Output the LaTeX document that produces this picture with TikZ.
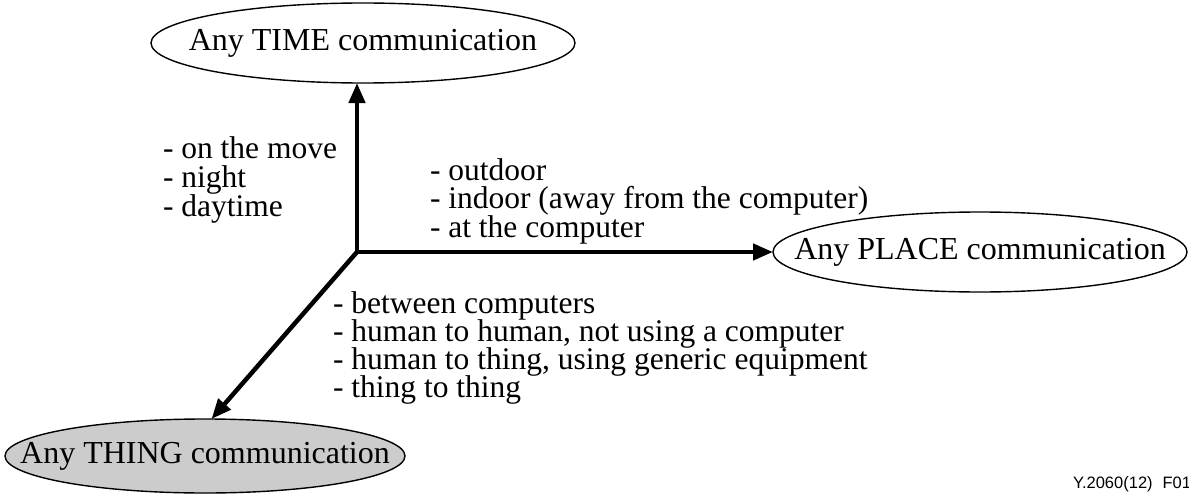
\documentclass[tikz,border=0pt]{standalone}
\usepackage{fontspec}
\setmainfont{Liberation Serif}
\newfontfamily\labsans{Liberation Sans}
\usetikzlibrary{arrows.meta,shapes.geometric}
\begin{document}
\begin{tikzpicture}[x=1pt,y=-1pt,
  every node/.style={inner sep=0pt, outer sep=0pt},
  txt/.style={anchor=base west, font=\fontsize{31.5}{29}\selectfont},
  oval/.style={draw, ellipse, line width=1.4pt, label={[font=\fontsize{32}{29}\selectfont]center:#1}},
  axis/.style={line width=4.5pt, -{Triangle[length=20pt,width=16pt]}}]
\useasboundingbox (0,0) rectangle (1189,495);
\coordinate (o) at (357,252);
\node[oval={Any TIME communication}, minimum width=424pt, minimum height=80pt] (time) at (363,43) {};
\node[oval={Any PLACE communication}, minimum width=414pt, minimum height=80pt] (place) at (980,252) {};
\node[oval={Any THING communication}, fill=black!20, minimum width=400pt, minimum height=74pt] (thing) at (205,456) {};
\draw[axis] (o) -- (o |- time.south);
\draw[axis] (o) -- (place.west);
\draw[axis] (o) -- (thing.80);
\node[txt] (t1) at (163,158) {- on the move};
\node[txt] (t2) at (163,187) {- night};
\node[txt] (t3) at (163,216) {- daytime};
\node[txt] (p1) at (430,180) {- outdoor};
\node[txt] (p2) at (430,208.5) {- indoor (away from the computer)};
\node[txt] (p3) at (430,237) {- at the computer};
\node[txt] (h1) at (333,313) {- between computers};
\node[txt] (h2) at (333,341) {- human to human, not using a computer};
\node[txt] (h3) at (333,369) {- human to thing, using generic equipment};
\node[txt] (h4) at (333,397) {- thing to thing};
\node[anchor=base east, font=\labsans\fontsize{16.5}{18}\selectfont] (fig) at (1191,488) {Y.2060(12)\hspace{0.6em}F01};
\end{tikzpicture}
\end{document}
